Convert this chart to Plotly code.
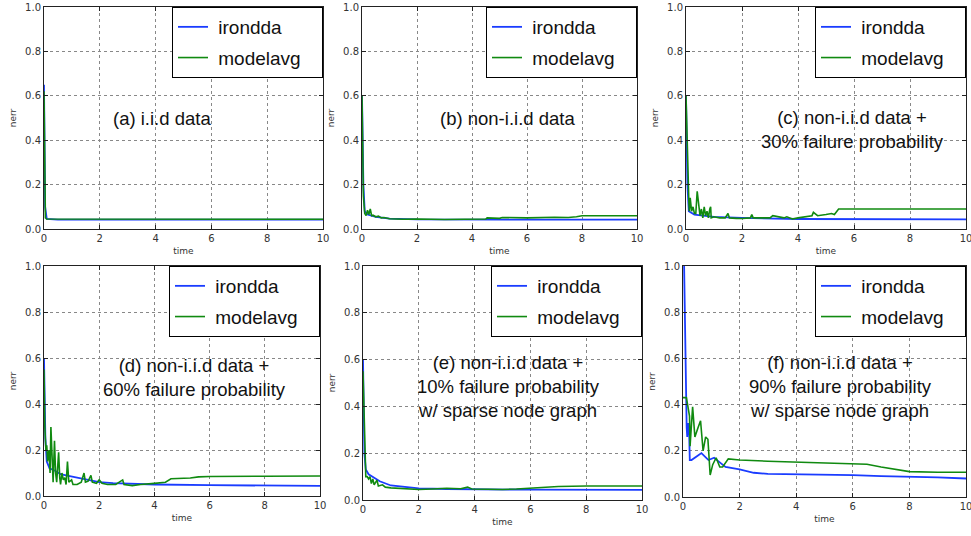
import plotly.graph_objects as go

# ---------------- data ----------------
a_t_ir = [0, 0.04, 0.1, 0.5, 10]
a_ir = [0.65, 0.10, 0.045, 0.042, 0.042]
a_t_ma = [0, 0.05, 0.1, 10]
a_ma = [0.62, 0.05, 0.045, 0.044]

b_t_ir = [0, 0.05, 0.1, 0.2, 0.5, 1, 2, 4, 10]
b_ir = [0.6, 0.2, 0.08, 0.065, 0.055, 0.047, 0.043, 0.042, 0.042]
b_t_ma = [0, 0.05, 0.1, 0.15, 0.2, 0.25, 0.3, 0.35, 0.4, 0.5, 0.6, 0.7, 0.8, 1.0,
          1.5, 2, 3, 4, 4.5, 4.55, 5, 5.1, 6, 7, 7.5, 7.8, 8, 10]
b_ma = [0.6, 0.15, 0.07, 0.06, 0.085, 0.065, 0.09, 0.06, 0.062, 0.055, 0.058, 0.05,
        0.052, 0.046, 0.044, 0.045, 0.043, 0.044, 0.045, 0.05, 0.048, 0.052, 0.05,
        0.053, 0.052, 0.055, 0.06, 0.06]

c_t_ir = [0, 0.05, 0.1, 0.3, 1, 2, 4, 10]
c_ir = [0.6, 0.2, 0.08, 0.065, 0.055, 0.05, 0.045, 0.043]
c_t_ma = [0, 0.05, 0.1, 0.12, 0.15, 0.2, 0.25, 0.3, 0.35, 0.4, 0.45, 0.5, 0.55, 0.6,
          0.65, 0.7, 0.75, 0.8, 0.85, 0.88, 0.9, 1.0, 1.2, 1.4, 1.5, 1.55, 1.8, 2.0,
          2.3, 2.35, 2.4, 2.7, 3.0, 3.1, 3.3, 3.5, 3.6, 3.8, 4.0, 4.2, 4.5, 4.55, 4.7,
          5.0, 5.2, 5.3, 5.45, 5.5, 10]
c_ma = [0.6, 0.3, 0.13, 0.08, 0.14, 0.08, 0.1, 0.07, 0.07, 0.17, 0.1, 0.06, 0.09,
        0.05, 0.1, 0.06, 0.08, 0.05, 0.09, 0.1, 0.05, 0.055, 0.05, 0.05, 0.07, 0.05,
        0.048, 0.047, 0.05, 0.065, 0.05, 0.05, 0.05, 0.06, 0.055, 0.05, 0.055, 0.045,
        0.05, 0.055, 0.06, 0.075, 0.06, 0.065, 0.07, 0.065, 0.09, 0.09, 0.09]

d_t_ir = [0, 0.05, 0.1, 0.2, 0.4, 0.6, 0.8, 1.0, 1.3, 1.6, 2, 2.5, 3, 4, 6, 8, 10]
d_ir = [0.6, 0.25, 0.15, 0.12, 0.11, 0.095, 0.09, 0.085, 0.075, 0.068, 0.06, 0.056,
        0.053, 0.05, 0.047, 0.046, 0.044]
d_t_ma = [0, 0.03, 0.07, 0.1, 0.13, 0.18, 0.22, 0.25, 0.3, 0.33, 0.38, 0.42, 0.46,
          0.5, 0.53, 0.57, 0.6, 0.65, 0.7, 0.75, 0.8, 0.85, 0.9, 1.0, 1.05, 1.2, 1.35,
          1.45, 1.5, 1.6, 1.7, 1.75, 1.9, 2.0, 2.1, 2.3, 2.6, 2.85, 2.9, 3.2, 3.5, 4.0,
          4.4, 4.6, 5.0, 5.3, 5.6, 6, 8, 10]
d_ma = [0.55, 0.3, 0.2, 0.22, 0.15, 0.2, 0.1, 0.3, 0.15, 0.06, 0.24, 0.1, 0.06, 0.12,
        0.19, 0.08, 0.05, 0.1, 0.07, 0.08, 0.05, 0.15, 0.06, 0.07, 0.05, 0.05, 0.06,
        0.1, 0.06, 0.065, 0.09, 0.06, 0.055, 0.07, 0.055, 0.05, 0.05, 0.07, 0.05,
        0.045, 0.05, 0.055, 0.06, 0.075, 0.077, 0.078, 0.083, 0.085, 0.086, 0.087]

e_t_ir = [0, 0.05, 0.1, 0.2, 0.4, 0.6, 1.0, 1.5, 2, 3, 4, 6, 10]
e_ir = [0.6, 0.2, 0.13, 0.11, 0.095, 0.08, 0.062, 0.055, 0.05, 0.047, 0.045, 0.044, 0.043]
e_t_ma = [0, 0.05, 0.1, 0.15, 0.2, 0.25, 0.3, 0.35, 0.4, 0.5, 0.55, 0.7, 0.8, 1.0,
          1.2, 1.5, 2.0, 2.5, 3.0, 3.5, 3.75, 3.9, 4.5, 5, 5.5, 6, 6.5, 7, 8, 10]
e_ma = [0.55, 0.25, 0.1, 0.1, 0.09, 0.1, 0.07, 0.09, 0.065, 0.085, 0.06, 0.065, 0.055,
        0.052, 0.05, 0.05, 0.045, 0.047, 0.05, 0.048, 0.055, 0.047, 0.045, 0.045,
        0.047, 0.05, 0.053, 0.058, 0.06, 0.06]

f_t_ir = [0, 0.1, 0.13, 0.15, 0.17, 0.19, 0.21, 0.24, 0.3, 0.53, 0.65, 0.9, 1.1, 1.3,
          1.5, 2, 2.5, 3, 5, 6, 7, 8, 9, 10]
f_ir = [1.3, 0.4, 0.3, 0.26, 0.32, 0.27, 0.32, 0.16, 0.16, 0.18, 0.19, 0.16, 0.17,
        0.15, 0.13, 0.12, 0.105, 0.1, 0.097, 0.095, 0.09, 0.088, 0.085, 0.08]
f_t_ma = [0, 0.12, 0.23, 0.25, 0.34, 0.42, 0.53, 0.62, 0.71, 0.8, 0.88, 0.96, 1.05,
          1.17, 1.3, 1.4, 1.6, 2.0, 3.0, 4, 5, 6, 6.5, 7, 8, 9, 10]
f_ma = [0.43, 0.43, 0.35, 0.22, 0.39, 0.26, 0.3, 0.33, 0.2, 0.26, 0.25, 0.095, 0.14,
        0.17, 0.13, 0.13, 0.165, 0.16, 0.155, 0.152, 0.148, 0.143, 0.142, 0.13, 0.11,
        0.107, 0.107]

labels = [
    "(a) i.i.d data",
    "(b) non-i.i.d data",
    "(c) non-i.i.d data +<br>30% failure probability",
    "(d) non-i.i.d data +<br>60% failure probability",
    "(e) non-i.i.d data +<br>10% failure probability<br>w/ sparse node graph",
    "(f) non-i.i.d data +<br>90% failure probability<br>w/ sparse node graph",
]
label_pos = [(4.23, 0.50), (5.3, 0.50), (5.93, 0.45), (5.47, 0.517), (5.2, 0.483), (5.55, 0.48)]
series_names = ["irondda", "modelavg"]

x_ticks = [0, 2, 4, 6, 8, 10]
y_ticks = [0.0, 0.2, 0.4, 0.6, 0.8, 1.0]
y_ticklabels = ["0.0", "0.2", "0.4", "0.6", "0.8", "1.0"]

series = [
    (a_t_ir, a_ir, a_t_ma, a_ma),
    (b_t_ir, b_ir, b_t_ma, b_ma),
    (c_t_ir, c_ir, c_t_ma, c_ma),
    (d_t_ir, d_ir, d_t_ma, d_ma),
    (e_t_ir, e_ir, e_t_ma, e_ma),
    (f_t_ir, f_ir, f_t_ma, f_ma),
]

# ---------------- layout geometry (pixels in 971x536) ----------------
W, H = 971, 536
boxes = [  # left, right, top, bottom
    (44, 323, 7, 229),
    (362, 637, 7, 229),
    (686, 966, 7, 229),
    (44, 320, 266, 496),
    (363, 642, 266, 500),
    (683, 966, 266, 497),
]

BLUE = "#1a3cff"
GREEN = "#108a10"
PAD = "\u00a0\u00a0\u00a0"  # extra right padding inside legend box

fig = go.Figure()
layout = dict(
    width=W, height=H, margin=dict(l=0, r=0, t=0, b=0, autoexpand=False),
    paper_bgcolor="white", plot_bgcolor="white",
    font=dict(family="DejaVu Sans", color="#222"),
    annotations=[],
)

for i, (box, (ti, vi, tm, vm)) in enumerate(zip(boxes, series)):
    n = i + 1
    xa = "x" if n == 1 else f"x{n}"
    ya = "y" if n == 1 else f"y{n}"
    lg = "legend" if n == 1 else f"legend{n}"
    fig.add_trace(go.Scatter(x=ti, y=vi, mode="lines", name=" " + series_names[0] + PAD,
                             line=dict(color=BLUE, width=1.8),
                             xaxis=xa, yaxis=ya, legend=lg, legendgroup=f"ir{n}"))
    fig.add_trace(go.Scatter(x=tm, y=vm, mode="lines", name=" " + series_names[1] + PAD,
                             line=dict(color=GREEN, width=1.6),
                             xaxis=xa, yaxis=ya, legend=lg, legendgroup=f"ma{n}"))
    l, r, t, b = box
    xd = [l / W, r / W]
    yd = [1 - b / H, 1 - t / H]
    axcommon = dict(showline=True, mirror="ticks", linecolor="#222", linewidth=1,
                    ticks="inside", ticklen=4, tickcolor="#222",
                    showgrid=True, gridcolor="#888", griddash="dot", gridwidth=1,
                    zeroline=False, tickfont=dict(size=10, color="#333"),
                    automargin=False, ticklabeloverflow="allow")
    layout["xaxis" if n == 1 else f"xaxis{n}"] = dict(
        domain=xd, range=[0, 10], tickvals=x_ticks, anchor=ya,
        title=dict(text="time", font=dict(size=9, color="#333"), standoff=4),
        **axcommon)
    layout["yaxis" if n == 1 else f"yaxis{n}"] = dict(
        domain=yd, range=[0, 1], tickvals=y_ticks, ticktext=y_ticklabels, anchor=xa,
        title=dict(text="nerr", font=dict(size=9, color="#333"), standoff=6),
        **axcommon)
    layout[lg] = dict(
        x=xd[1], y=yd[1], xanchor="right", yanchor="top", xref="paper", yref="paper",
        bgcolor="white", bordercolor="black", borderwidth=1,
        font=dict(family="Liberation Sans", size=19, color="#111"),
        traceorder="grouped", tracegroupgap=3,
    )
    lx, ly = label_pos[i]
    layout["annotations"].append(dict(
        text=labels[i], x=lx, y=ly, xref=xa, yref=ya, showarrow=False,
        font=dict(family="Liberation Sans", size=18.5, color="#111"), align="center",
    ))

fig.update_layout(**layout)
fig.write_html("out.html", config={"displayModeBar": False},
               post_script="document.body.style.margin='0';")
